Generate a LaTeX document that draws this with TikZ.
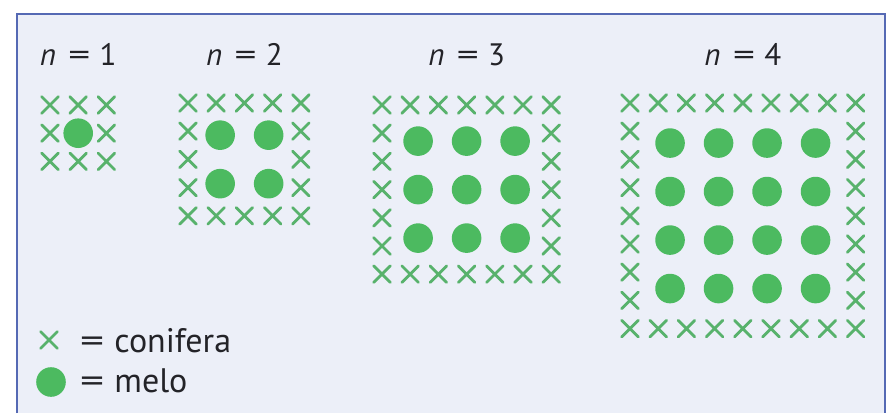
\documentclass[tikz,border=0pt]{standalone}
\usepackage{graphicx}
\usepackage{fontspec}
\setmainfont{PT Sans}
\definecolor{sfondo}{RGB}{236,239,248}
\definecolor{bordo}{RGB}{85,105,180}
\definecolor{verde}{RGB}{76,186,96}
\definecolor{verdex}{RGB}{88,178,108}
\definecolor{testo}{RGB}{35,35,40}
\begin{document}
\begin{tikzpicture}[x=1pt,y=-1pt,line cap=round,
		conifera/.pic={\draw[verdex,line width=2.8pt] (-8.3,-8.3)--(8.3,8.3) (-8.3,8.3)--(8.3,-8.3);},
		melo/.style={fill=verde},
		etichetta/.style={text=testo,anchor=base,inner sep=0pt,font=\fontsize{31}{34}\selectfont},
		legenda/.style={text=testo,anchor=base west,inner sep=0pt,font=\fontsize{34}{37}\selectfont}]
	\useasboundingbox (0,0) rectangle (890,413);
	% riquadro
	\fill[sfondo] (17,14) rectangle (885,413);
	\draw[bordo,line width=1.6pt,line cap=butt] (17,413)--(17,14)--(885,14)--(885,413);
	% schemi: n / x sinistra / y alto
	\def\s{28.2}
	\def\d{48.5}
	\foreach \n/\xo/\yo in {1/50/105,2/188/103,3/382/105,4/630/103}{
		\pgfmathtruncatemacro\m{2*\n}
		\pgfmathsetmacro\cx{\xo+\n*\s}
		\pgfmathsetmacro\cy{\yo+\n*\s}
		\node[etichetta] (n\n) at (\cx,65) {\textit{n}\hspace{0.4em}\scalebox{1.4}[1]{=}\hspace{0.3em}\n};
		\foreach \i in {0,...,\m}{
			\pic at (\xo+\i*\s,\yo) {conifera};
			\pic at (\xo+\i*\s,\yo+\m*\s) {conifera};
		}
		\pgfmathtruncatemacro\mm{\m-1}
		\foreach \j in {1,...,\mm}{
			\pic at (\xo,\yo+\j*\s) {conifera};
			\pic at (\xo+\m*\s,\yo+\j*\s) {conifera};
		}
		\foreach \i in {1,...,\n}
			\foreach \j in {1,...,\n}
				\fill[melo] (\cx+\i*\d-\n*\d/2-\d/2,\cy+\j*\d-\n*\d/2-\d/2) circle (14.8);
	}
	% legenda
	\pic at (49,340) {conifera};
	\fill[melo] (51,382) circle (14.8);
	\node[legenda] (conif) at (80,352) {\scalebox{1.4}[1]{=}\hspace{0.3em}conifera};
	\node[legenda] (melo) at (80,392) {\scalebox{1.4}[1]{=}\hspace{0.3em}melo};
\end{tikzpicture}
\end{document}
